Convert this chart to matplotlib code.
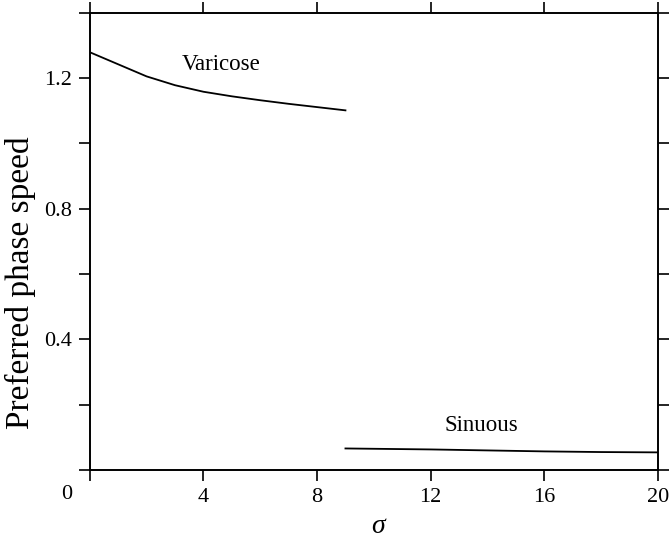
import matplotlib
matplotlib.use("Agg")
import matplotlib.pyplot as plt

plt.rcParams['font.family'] = ['Liberation Serif', 'DejaVu Serif']

varicose_sigma = [0, 1, 2, 3, 4, 5, 6, 7, 8, 9]
varicose_speed = [1.279, 1.242, 1.205, 1.178, 1.158, 1.144, 1.132, 1.121, 1.111, 1.101]

sinuous_sigma = [9, 10, 12, 14, 16, 18, 20]
sinuous_speed = [0.066, 0.065, 0.063, 0.060, 0.057, 0.055, 0.054]

x_ticks = [0, 4, 8, 12, 16, 20]
x_labels = ['', '4', '8', '12', '16', '20']
y_ticks = [0, 0.2, 0.4, 0.6, 0.8, 1.0, 1.2, 1.4]
y_labels = ['', '', '0.4', '', '0.8', '', '1.2', '']

fig = plt.figure(figsize=(6.7, 5.4), dpi=100)
ax = fig.add_axes([0.134, 0.1296, 0.848, 0.8469])

ax.plot(varicose_sigma, varicose_speed, color='black', lw=1.3)
ax.plot(sinuous_sigma, sinuous_speed, color='black', lw=1.3)

ax.set_xlim(0, 20)
ax.set_ylim(0, 1.4)
ax.set_xticks(x_ticks)
ax.set_xticklabels(x_labels)
ax.set_yticks(y_ticks)
ax.set_yticklabels(y_labels)
ax.tick_params(axis='both', direction='out', length=8, width=1.2, labelsize=16,
               top=True, right=True, labeltop=False, labelright=False, pad=5)
for s in ax.spines.values():
    s.set_linewidth(1.4)

ax.text(-0.82, -0.045, '0', fontsize=16, ha='center', va='top')

ax.text(3.25, 1.24, 'Varicose', fontsize=16.5, ha='left', va='center')
ax.text(12.5, 0.135, 'Sinuous', fontsize=16.5, ha='left', va='center')

ax.set_ylabel('Preferred phase speed', fontsize=24)
ax.yaxis.set_label_coords(-0.095, 0.41)
ax.set_xlabel('σ', fontsize=20, style='italic')
ax.xaxis.label.set_va('baseline')
ax.xaxis.set_label_coords(0.507, -0.138)

fig.savefig('out.png', dpi=100)
